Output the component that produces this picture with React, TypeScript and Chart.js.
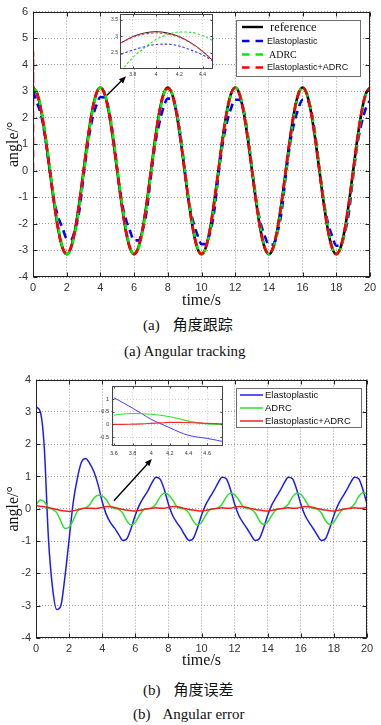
import React, { useEffect, useRef } from 'react';
import { Chart, registerables } from 'chart.js';

Chart.register(...registerables);

// ---------- data ----------
const timeSec = [
  0, 0.25, 0.5, 0.75, 1, 1.25, 1.5, 1.75, 2, 2.25, 2.5, 2.75, 3, 3.25, 3.5, 3.75,
  4, 4.25, 4.5, 4.75, 5, 5.25, 5.5, 5.75, 6, 6.25, 6.5, 6.75, 7, 7.25, 7.5, 7.75,
  8, 8.25, 8.5, 8.75, 9, 9.25, 9.5, 9.75, 10, 10.25, 10.5, 10.75, 11, 11.25, 11.5, 11.75,
  12, 12.25, 12.5, 12.75, 13, 13.25, 13.5, 13.75, 14, 14.25, 14.5, 14.75, 15, 15.25, 15.5, 15.75,
  16, 16.25, 16.5, 16.75, 17, 17.25, 17.5, 17.75, 18, 18.25, 18.5, 18.75, 19, 19.25, 19.5, 19.75,
  20,
];

// (a) angular tracking
const trackRef = [
  3.14, 2.9, 2.22, 1.2, 0, -1.2, -2.22, -2.9, -3.14, -2.9, -2.22, -1.2, 0, 1.2, 2.22, 2.9,
  3.14, 2.9, 2.22, 1.2, 0, -1.2, -2.22, -2.9, -3.14, -2.9, -2.22, -1.2, 0, 1.2, 2.22, 2.9,
  3.14, 2.9, 2.22, 1.2, 0, -1.2, -2.22, -2.9, -3.14, -2.9, -2.22, -1.2, 0, 1.2, 2.22, 2.9,
  3.14, 2.9, 2.22, 1.2, 0, -1.2, -2.22, -2.9, -3.14, -2.9, -2.22, -1.2, 0, 1.2, 2.22, 2.9,
  3.14, 2.9, 2.22, 1.2, 0, -1.2, -2.22, -2.9, -3.14, -2.9, -2.22, -1.2, 0, 1.2, 2.22, 2.9,
  3.14,
];
const trackElasto = [
  3.0, 2.55, 2.05, 1.15, 0.0, -1.1, -1.75, -2.15, -2.55, -2.58, -2.2, -1.5, -0.2, 1.0, 1.9, 2.45,
  2.78, 2.76, 2.3, 1.35, 0.05, -1.1, -1.8, -2.25, -2.62, -2.62, -2.25, -1.5, -0.2, 1.0, 1.8, 2.4,
  2.72, 2.72, 2.3, 1.35, 0.05, -1.15, -1.9, -2.4, -2.76, -2.76, -2.35, -1.55, -0.2, 1.0, 1.8, 2.35,
  2.68, 2.68, 2.3, 1.35, 0.05, -1.15, -1.95, -2.45, -2.78, -2.78, -2.35, -1.55, -0.2, 1.0, 1.8, 2.35,
  2.68, 2.68, 2.3, 1.35, 0.05, -1.15, -1.95, -2.45, -2.82, -2.82, -2.35, -1.55, -0.2, 1.0, 1.8, 2.35,
  2.65,
];
const trackAdrc = [
  3.14, 2.93, 2.3, 1.32, 0.12, -1.08, -2.13, -2.86, -3.14, -2.93, -2.3, -1.32, -0.12, 1.08, 2.13, 2.86,
  3.14, 2.93, 2.3, 1.32, 0.12, -1.08, -2.13, -2.86, -3.14, -2.93, -2.3, -1.32, -0.12, 1.08, 2.13, 2.86,
  3.14, 2.93, 2.3, 1.32, 0.12, -1.08, -2.13, -2.86, -3.14, -2.93, -2.3, -1.32, -0.12, 1.08, 2.13, 2.86,
  3.14, 2.93, 2.3, 1.32, 0.12, -1.08, -2.13, -2.86, -3.14, -2.93, -2.3, -1.32, -0.12, 1.08, 2.13, 2.86,
  3.14, 2.93, 2.3, 1.32, 0.12, -1.08, -2.13, -2.86, -3.14, -2.93, -2.3, -1.32, -0.12, 1.08, 2.13, 2.86,
  3.14,
];
const trackBoth = [
  3.14, 2.89, 2.21, 1.19, -0.01, -1.21, -2.23, -2.9, -3.13, -2.89, -2.21, -1.19, 0.01, 1.21, 2.23, 2.9,
  3.13, 2.89, 2.21, 1.19, -0.01, -1.21, -2.23, -2.9, -3.13, -2.89, -2.21, -1.19, 0.01, 1.21, 2.23, 2.9,
  3.1, 2.92, 2.28, 1.25, 0.02, -1.2, -2.22, -2.9, -3.13, -2.89, -2.21, -1.19, 0.01, 1.21, 2.23, 2.9,
  3.13, 2.89, 2.21, 1.19, -0.01, -1.21, -2.23, -2.9, -3.13, -2.89, -2.21, -1.19, 0.01, 1.21, 2.23, 2.9,
  3.13, 2.89, 2.21, 1.19, -0.01, -1.21, -2.23, -2.9, -3.13, -2.89, -2.21, -1.19, 0.01, 1.21, 2.23, 2.9,
  3.13,
];
// start-up spike of Elastoplastic+ADRC at t = 0
const trackBothSpikeTime = [0, 0, 0];
const trackBothSpikeVals = [0, 4.5, 3.14];

const trackXTicks = [0, 2, 4, 6, 8, 10, 12, 14, 16, 18, 20];
const trackYTicks = [-4, -3, -2, -1, 0, 1, 2, 3, 4, 5, 6];

// inset of (a)
const insetTrackTime = [3.7, 3.8, 3.9, 4.0, 4.1, 4.2, 4.3, 4.4, 4.5];
const insetTrackRef = [2.8, 2.99, 3.1, 3.14, 3.1, 2.99, 2.8, 2.54, 2.22];
const insetTrackElasto = [2.45, 2.58, 2.68, 2.75, 2.76, 2.7, 2.58, 2.43, 2.22];
const insetTrackAdrc = [1.95, 2.35, 2.65, 2.9, 3.05, 3.13, 3.12, 3.02, 2.85];
const insetTrackBoth = [2.8, 2.97, 3.07, 3.1, 3.07, 2.97, 2.79, 2.54, 2.22];
const insetTrackXTicks = [3.8, 4, 4.2, 4.4];
const insetTrackYTicks = [2.5, 3, 3.5];

// (b) angular error
const errElasto = [
  3.15, 3.02, 1.9, -0.9, -2.45, -3.12, -3.0, -2.1, -0.95, 0.2, 0.95, 1.45, 1.56, 1.4, 1.15, 0.75,
  0.22, -0.18, -0.43, -0.6, -0.8, -0.98, -0.92, -0.6, -0.2, 0.12, 0.35, 0.55, 0.8, 0.98, 0.92, 0.6,
  0.15, -0.2, -0.42, -0.6, -0.82, -0.98, -0.92, -0.6, -0.2, 0.12, 0.35, 0.56, 0.8, 0.98, 0.93, 0.6,
  0.15, -0.2, -0.42, -0.61, -0.82, -0.98, -0.92, -0.6, -0.2, 0.12, 0.35, 0.56, 0.8, 0.98, 0.93, 0.6,
  0.15, -0.2, -0.42, -0.61, -0.82, -0.98, -0.92, -0.6, -0.2, 0.12, 0.35, 0.56, 0.8, 0.98, 0.93, 0.6,
  0.15,
];
const errAdrc = [
  0.12, 0.27, 0.22, 0.03, -0.02, -0.12, -0.38, -0.61, -0.57, -0.35, -0.08, 0.0, 0.03, 0.13, 0.33, 0.42,
  0.4, 0.28, 0.08, 0.01, -0.02, -0.14, -0.38, -0.5, -0.42, -0.2, -0.03, 0.0, 0.03, 0.15, 0.37, 0.48,
  0.44, 0.28, 0.07, 0.01, -0.02, -0.14, -0.38, -0.5, -0.42, -0.2, -0.03, 0.0, 0.03, 0.15, 0.37, 0.48,
  0.44, 0.28, 0.07, 0.01, -0.02, -0.13, -0.37, -0.48, -0.41, -0.2, -0.03, 0.0, 0.03, 0.15, 0.37, 0.48,
  0.45, 0.28, 0.07, 0.01, -0.02, -0.13, -0.37, -0.48, -0.41, -0.2, -0.03, 0.0, 0.03, 0.15, 0.38, 0.5,
  0.47,
];
const errBoth = [
  0.1, 0.08, 0.06, 0.04, 0.01, -0.02, -0.05, -0.07, -0.08, -0.06, -0.03, 0.0, 0.02, 0.02, 0.01, 0.02,
  0.04, 0.07, 0.06, 0.04, 0.01, -0.02, -0.04, -0.06, -0.07, -0.05, -0.02, 0.0, 0.02, 0.03, 0.02, 0.02,
  0.05, 0.07, 0.06, 0.04, 0.01, -0.02, -0.04, -0.06, -0.07, -0.05, -0.02, 0.0, 0.02, 0.03, 0.02, 0.02,
  0.05, 0.07, 0.06, 0.04, 0.01, -0.02, -0.04, -0.06, -0.07, -0.05, -0.02, 0.0, 0.02, 0.03, 0.02, 0.02,
  0.05, 0.07, 0.06, 0.04, 0.01, -0.02, -0.04, -0.06, -0.07, -0.05, -0.02, 0.0, 0.02, 0.03, 0.02, 0.02,
  0.05,
];
// start-up spike of Elastoplastic+ADRC at t = 0
const errBothSpikeTime = [0, 0, 0];
const errBothSpikeVals = [3.15, -1.4, 0.1];

const errXTicks = [0, 2, 4, 6, 8, 10, 12, 14, 16, 18, 20];
const errYTicks = [-4, -3, -2, -1, 0, 1, 2, 3, 4];

// inset of (b)
const insetErrTime = [3.6, 3.7, 3.8, 3.9, 4.0, 4.1, 4.2, 4.3, 4.4, 4.5, 4.6, 4.7, 4.8];
const insetErrElasto = [1.05, 0.85, 0.64, 0.42, 0.2, 0.03, -0.13, -0.3, -0.43, -0.5, -0.55, -0.62, -0.7];
const insetErrAdrc = [0.36, 0.41, 0.43, 0.42, 0.4, 0.36, 0.3, 0.22, 0.13, 0.06, 0.02, 0.0, -0.01];
const insetErrBoth = [0.0, 0.0, 0.01, 0.02, 0.04, 0.06, 0.08, 0.08, 0.07, 0.06, 0.04, 0.03, 0.02];
const insetErrXTicks = [3.6, 3.8, 4, 4.2, 4.4, 4.6];
const insetErrYTicks = [-0.5, 0, 0.5, 1];

// ---------- styling ----------
const SERIF = '"Liberation Serif", "Times New Roman", serif';
const SANS = '"Liberation Sans", Arial, sans-serif';
const CJK = '"Noto Sans CJK SC", "Liberation Serif", serif';

const pts = (xs: number[], ys: number[]) => xs.map((x, i) => ({ x, y: ys[i] }));

const boxPlugin = {
  id: 'box',
  beforeDraw(chart: any, _a: any, o: any) {
    if (!o || !o.fill) return;
    const { ctx, chartArea: a } = chart;
    ctx.save();
    ctx.fillStyle = o.fill;
    ctx.fillRect(a.left, a.top, a.right - a.left, a.bottom - a.top);
    ctx.restore();
  },
  afterDraw(chart: any, _a: any, o: any) {
    const { ctx, chartArea: a, scales } = chart;
    ctx.save();
    ctx.strokeStyle = (o && o.color) || '#222';
    ctx.lineWidth = 1;
    ctx.setLineDash([]);
    const L = Math.round(a.left) + 0.5;
    const R = Math.round(a.right) - 0.5;
    const T = Math.round(a.top) + 0.5;
    const B = Math.round(a.bottom) - 0.5;
    ctx.strokeRect(L, T, R - L, B - T);
    const len = (o && o.tickLen) || 0;
    if (len) {
      ctx.beginPath();
      for (const t of scales.x.ticks) {
        const px = Math.round(scales.x.getPixelForValue(t.value)) + 0.5;
        ctx.moveTo(px, B); ctx.lineTo(px, B - len);
        ctx.moveTo(px, T); ctx.lineTo(px, T + len);
      }
      for (const t of scales.y.ticks) {
        const py = Math.round(scales.y.getPixelForValue(t.value)) + 0.5;
        ctx.moveTo(L, py); ctx.lineTo(L + len, py);
        ctx.moveTo(R, py); ctx.lineTo(R - len, py);
      }
      ctx.stroke();
    }
    ctx.restore();
  },
};

const legendPlugin = {
  id: 'boxLegend',
  afterDraw(chart: any, _a: any, o: any) {
    if (!o || o.left === undefined) return;
    const { ctx } = chart;
    ctx.save();
    ctx.fillStyle = '#fff';
    ctx.fillRect(o.left, o.top, o.width, o.height);
    ctx.strokeStyle = '#6f6f6f';
    ctx.lineWidth = 1;
    ctx.setLineDash([]);
    ctx.strokeRect(o.left + 0.5, o.top + 0.5, o.width, o.height);
    const items = chart.data.datasets.filter((ds: any) => !ds.legendSkip);
    items.forEach((ds: any, i: number) => {
      const yy = o.rows[i];
      ctx.strokeStyle = ds.borderColor;
      ctx.lineWidth = o.lineWidth;
      ctx.setLineDash(ds.borderDash ? o.dash : []);
      ctx.beginPath();
      ctx.moveTo(o.lineFrom, yy);
      ctx.lineTo(o.lineTo, yy);
      ctx.stroke();
      ctx.setLineDash([]);
      ctx.fillStyle = '#111';
      ctx.font = ds.legendFont;
      ctx.textBaseline = 'middle';
      ctx.textAlign = 'left';
      ctx.fillText(ds.label, o.textX + (ds.legendDx || 0), yy + 0.5);
    });
    ctx.restore();
  },
};

const arrowPlugin = {
  id: 'arrow',
  afterDatasetsDraw(chart: any, _a: any, o: any) {
    if (!o || !o.from) return;
    const { ctx, scales } = chart;
    const x1 = scales.x.getPixelForValue(o.from[0]);
    const y1 = scales.y.getPixelForValue(o.from[1]);
    const x2 = scales.x.getPixelForValue(o.to[0]);
    const y2 = scales.y.getPixelForValue(o.to[1]);
    const ang = Math.atan2(y2 - y1, x2 - x1);
    const hl = 7;
    const hw = 3;
    const bx = x2 - hl * Math.cos(ang);
    const by = y2 - hl * Math.sin(ang);
    ctx.save();
    ctx.strokeStyle = '#000';
    ctx.fillStyle = '#000';
    ctx.lineWidth = 1.4;
    ctx.setLineDash([]);
    ctx.beginPath();
    ctx.moveTo(x1, y1);
    ctx.lineTo(bx, by);
    ctx.stroke();
    ctx.beginPath();
    ctx.moveTo(x2, y2);
    ctx.lineTo(bx + hw * Math.sin(ang), by - hw * Math.cos(ang));
    ctx.lineTo(bx - hw * Math.sin(ang), by + hw * Math.cos(ang));
    ctx.closePath();
    ctx.fill();
    ctx.restore();
  },
};

const setTicks = (arr: number[]) => (s: any) => {
  s.ticks = arr.map((v) => ({ value: v }));
};

function axis(opts: any) {
  return {
    type: 'linear',
    min: opts.min,
    max: opts.max,
    afterBuildTicks: setTicks(opts.ticks),
    afterFit: opts.fit,
    grid: { color: opts.gridColor || '#9a9a9a', lineWidth: 1, drawTicks: false },
    border: { display: false, dash: [1, 2] },
    ticks: {
      autoSkip: false,
      maxRotation: 0,
      padding: opts.pad,
      color: '#333',
      font: { family: SANS, size: opts.fontSize },
      callback: (v: any) => String(v),
    },
    title: opts.title
      ? {
          display: true,
          text: opts.title,
          color: '#111',
          font: { family: SERIF, size: 16, lineHeight: 1 },
          padding: opts.titlePad,
        }
      : { display: false },
  };
}

function ChartCanvas({ left, top, width, height, make }: any) {
  const ref = useRef<HTMLCanvasElement>(null);
  useEffect(() => {
    const chart = new Chart(ref.current as HTMLCanvasElement, make());
    return () => chart.destroy();
  }, []);
  return (
    <canvas
      ref={ref}
      width={width}
      height={height}
      style={{ position: 'absolute', left, top, width, height }}
    />
  );
}

const lineDefaults = {
  elements: {
    point: { radius: 0 },
    line: { tension: 0.4, cubicInterpolationMode: 'monotone', fill: false, borderCapStyle: 'butt' },
  },
};

const spikeLine = { tension: 0, cubicInterpolationMode: 'default', legendSkip: true };

function trackConfig() {
  const dash = [8, 5];
  return {
    type: 'line',
    data: {
      datasets: [
        { label: 'reference', data: pts(timeSec, trackRef), borderColor: '#000000', borderWidth: 2.6, order: 4, legendFont: `12.5px ${SERIF}`, legendDx: 3 },
        { label: 'Elastoplastic', data: pts(timeSec, trackElasto), borderColor: '#0000ff', borderWidth: 2.6, borderDash: dash, order: 3, legendFont: `9px ${SANS}` },
        { label: 'ADRC', data: pts(timeSec, trackAdrc), borderColor: '#00ee00', borderWidth: 2.6, borderDash: dash, order: 2, legendFont: `10px ${SERIF}`, legendDx: 2 },
        {
          label: 'Elastoplastic+ADRC', data: pts(timeSec, trackBoth),
          borderColor: '#ff0000', borderWidth: 2.6, borderDash: dash, borderDashOffset: 6.5, order: 1,
          legendFont: `9px ${SANS}`,
        },
        {
          label: 'Elastoplastic+ADRC start', data: pts(trackBothSpikeTime, trackBothSpikeVals),
          borderColor: '#ff0000', borderWidth: 2.6, borderDash: dash, order: 0, ...spikeLine,
        },
      ],
    },
    options: {
      responsive: false,
      animation: false,
      events: [],
      ...lineDefaults,
      layout: { padding: { left: 0, top: 10, right: 11, bottom: 0 } },
      plugins: {
        legend: { display: false },
        tooltip: { enabled: false },
        box: { tickLen: 4 },
        boxLegend: { left: 236, top: 20, width: 124, height: 56, rows: [27, 41, 54.5, 67.5], lineFrom: 242, lineTo: 263, textX: 267, lineWidth: 2.4, dash: [7.5, 6] },
        arrow: { from: [4.39, 2.85], to: [5.52, 3.56] },
      },
      scales: {
        x: axis({ min: 0, max: 20, ticks: trackXTicks, fit: (s: any) => { s.height = 35; }, pad: 4, fontSize: 11, title: 'time/s', titlePad: { top: 0, bottom: 3 } }),
        y: axis({ min: -4, max: 6, ticks: trackYTicks, fit: (s: any) => { s.width = 33; }, pad: 5, fontSize: 11, title: 'angle/°', titlePad: { top: 6, bottom: 0 } }),
      },
    },
    plugins: [boxPlugin, legendPlugin, arrowPlugin],
  };
}

function trackInsetConfig() {
  const dash = [2.5, 2];
  return {
    type: 'line',
    data: {
      datasets: [
        { label: 'reference', data: pts(insetTrackTime, insetTrackRef), borderColor: '#222', borderWidth: 1, order: 3 },
        { label: 'Elastoplastic', data: pts(insetTrackTime, insetTrackElasto), borderColor: '#3030ff', borderWidth: 1.1, borderDash: dash, order: 2 },
        { label: 'ADRC', data: pts(insetTrackTime, insetTrackAdrc), borderColor: '#30e030', borderWidth: 1.1, borderDash: dash, order: 1 },
        { label: 'Elastoplastic+ADRC', data: pts(insetTrackTime, insetTrackBoth), borderColor: '#ff3030', borderWidth: 1.1, borderDash: dash, order: 0 },
      ],
    },
    options: {
      responsive: false,
      animation: false,
      events: [],
      ...lineDefaults,
      layout: { padding: { left: 0, top: 8, right: 5, bottom: 0 } },
      plugins: {
        legend: { display: false },
        tooltip: { enabled: false },
        box: { fill: '#ffffff', tickLen: 2, color: '#444' },
      },
      scales: {
        x: axis({ min: 3.69, max: 4.49, ticks: insetTrackXTicks, fit: (s: any) => { s.height = 13; }, pad: 3, fontSize: 5, gridColor: '#cfcfcf' }),
        y: axis({ min: 2.0, max: 3.68, ticks: insetTrackYTicks, fit: (s: any) => { s.width = 20; }, pad: 2, fontSize: 5, gridColor: '#cfcfcf' }),
      },
    },
    plugins: [boxPlugin],
  };
}

function errConfig() {
  return {
    type: 'line',
    data: {
      datasets: [
        { label: 'Elastoplastic', data: pts(timeSec, errElasto), borderColor: '#1c1cf0', borderWidth: 1.5, order: 3, legendFont: `9.5px ${SANS}` },
        { label: 'ADRC', data: pts(timeSec, errAdrc), borderColor: '#2ee02e', borderWidth: 1.5, order: 2, legendFont: `9.5px ${SANS}` },
        {
          label: 'Elastoplastic+ADRC', data: pts(timeSec, errBoth),
          borderColor: '#f02020', borderWidth: 1.5, order: 1, legendFont: `9.5px ${SANS}`,
        },
        {
          label: 'Elastoplastic+ADRC start', data: pts(errBothSpikeTime, errBothSpikeVals),
          borderColor: '#f02020', borderWidth: 1.5, order: 0, ...spikeLine,
        },
      ],
    },
    options: {
      responsive: false,
      animation: false,
      events: [],
      ...lineDefaults,
      layout: { padding: { left: 0, top: 10, right: 14, bottom: 0 } },
      plugins: {
        legend: { display: false },
        tooltip: { enabled: false },
        box: { tickLen: 4 },
        boxLegend: { left: 236, top: 20, width: 125, height: 39, rows: [27, 40, 53], lineFrom: 240, lineTo: 263, textX: 265, lineWidth: 1.5, dash: [] },
        arrow: { from: [4.71, 0.25], to: [7.0, 1.54] },
      },
      scales: {
        x: axis({ min: 0, max: 20, ticks: errXTicks, fit: (s: any) => { s.height = 32; }, pad: 4, fontSize: 11, title: 'time/s', titlePad: { top: 0, bottom: 1 } }),
        y: axis({ min: -4, max: 4, ticks: errYTicks, fit: (s: any) => { s.width = 36; }, pad: 5, fontSize: 11, title: 'angle/°', titlePad: { top: 6, bottom: 0 } }),
      },
    },
    plugins: [boxPlugin, legendPlugin, arrowPlugin],
  };
}

function errInsetConfig() {
  return {
    type: 'line',
    data: {
      datasets: [
        { label: 'Elastoplastic', data: pts(insetErrTime, insetErrElasto), borderColor: '#4040ff', borderWidth: 1, order: 2 },
        { label: 'ADRC', data: pts(insetErrTime, insetErrAdrc), borderColor: '#30e030', borderWidth: 1.1, order: 1 },
        { label: 'Elastoplastic+ADRC', data: pts(insetErrTime, insetErrBoth), borderColor: '#f03030', borderWidth: 1.1, order: 0 },
      ],
    },
    options: {
      responsive: false,
      animation: false,
      events: [],
      ...lineDefaults,
      layout: { padding: { left: 0, top: 5, right: 3, bottom: 0 } },
      plugins: {
        legend: { display: false },
        tooltip: { enabled: false },
        box: { fill: '#ffffff', tickLen: 2, color: '#444' },
      },
      scales: {
        x: axis({ min: 3.58, max: 4.77, ticks: insetErrXTicks, fit: (s: any) => { s.height = 14; }, pad: 4, fontSize: 5.5, gridColor: '#cfcfcf' }),
        y: axis({ min: -0.85, max: 1.5, ticks: insetErrYTicks, fit: (s: any) => { s.width = 20; }, pad: 3, fontSize: 5.5, gridColor: '#cfcfcf' }),
      },
    },
    plugins: [boxPlugin],
  };
}

const capStyle: React.CSSProperties = {
  position: 'absolute',
  fontFamily: SERIF,
  fontSize: 15,
  lineHeight: '16px',
  color: '#111',
  whiteSpace: 'nowrap',
};

export default function App() {
  return (
    <div style={{ position: 'absolute', left: 0, top: 0, width: 381, height: 725, background: '#fff', overflow: 'hidden' }}>
      <ChartCanvas left={0} top={0} width={381} height={312} make={trackConfig} />
      <ChartCanvas left={100} top={6} width={118} height={76} make={trackInsetConfig} />
      <div style={{ ...capStyle, left: 143, top: 316 }}>
        <span>(a)</span>
        <span style={{ marginLeft: 13, fontFamily: CJK }}>角度跟踪</span>
      </div>
      <div style={{ ...capStyle, left: 124, top: 343 }}>(a) Angular tracking</div>

      <ChartCanvas left={0} top={368} width={381} height={302} make={errConfig} />
      <ChartCanvas left={92} top={380} width={134} height={80} make={errInsetConfig} />
      <div style={{ ...capStyle, left: 143, top: 681 }}>
        <span>(b)</span>
        <span style={{ marginLeft: 13, fontFamily: CJK }}>角度误差</span>
      </div>
      <div style={{ ...capStyle, left: 133, top: 706 }}>
        <span>(b)</span>
        <span style={{ marginLeft: 12 }}>Angular error</span>
      </div>
    </div>
  );
}
